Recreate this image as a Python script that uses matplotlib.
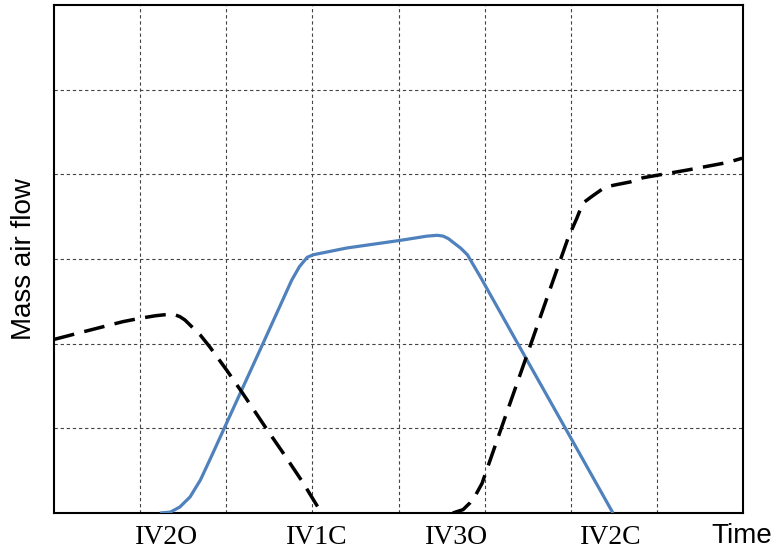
import matplotlib
matplotlib.use("Agg")
import matplotlib.pyplot as plt

# Data (x in grid-column units 0..8, y in grid-row units 0..6)
flow_a_x = [0.0, 0.34, 0.80, 1.0, 1.18, 1.27, 1.38, 1.46, 1.52, 1.58, 1.70, 1.81, 2.01, 2.20, 2.47, 2.66, 2.89, 3.07]
flow_a_y = [2.05, 2.14, 2.26, 2.30, 2.33, 2.34, 2.35, 2.32, 2.28, 2.22, 2.10, 1.96, 1.68, 1.40, 0.99, 0.71, 0.36, 0.06]

flow_b_x = [1.23, 1.35, 1.46, 1.58, 1.70, 1.81, 1.90, 2.16, 2.43, 2.76, 2.85, 2.94, 3.01, 3.40, 4.02, 4.33, 4.45, 4.52, 4.58, 4.63, 4.72, 4.80, 4.95, 5.49, 5.96, 6.49]
flow_b_y = [0.0, 0.01, 0.07, 0.19, 0.39, 0.63, 0.83, 1.41, 2.01, 2.75, 2.91, 3.02, 3.05, 3.13, 3.22, 3.27, 3.28, 3.27, 3.24, 3.20, 3.13, 3.05, 2.79, 1.81, 0.96, 0.0]

flow_c_x = [4.63, 4.75, 4.83, 4.90, 4.97, 5.21, 5.49, 5.80, 5.97, 6.07, 6.14, 6.26, 6.40, 6.54, 6.69, 6.84, 7.35, 7.82, 7.99]
flow_c_y = [0.0, 0.04, 0.12, 0.22, 0.35, 1.05, 1.86, 2.76, 3.25, 3.48, 3.66, 3.75, 3.85, 3.88, 3.91, 3.96, 4.05, 4.14, 4.19]

tick_pos = [1.31, 3.05, 4.67, 6.46]
tick_labels = ["IV2O", "IV1C", "IV3O", "IV2C"]

W, H = 778, 554
fig = plt.figure(figsize=(W / 100, H / 100), dpi=100)
ax = fig.add_axes([54 / W, (H - 513) / H, (743 - 54) / W, (513 - 5) / H])

ax.plot(flow_b_x, flow_b_y, color="#4F81BD", lw=2.3, solid_joinstyle="round",
        solid_capstyle="butt", zorder=3)
ax.plot(flow_a_x, flow_a_y, color="black", lw=2.5, dashes=(6, 3),
        dash_joinstyle="round", zorder=4)
ax.plot(flow_c_x, flow_c_y, color="black", lw=2.5, dashes=(6, 3),
        dash_joinstyle="round", zorder=4)

ax.set_xlim(0, 8)
ax.set_ylim(0, 6)
ax.set_xticks(range(1, 8), minor=True)
ax.set_yticks(range(1, 6), minor=True)
ax.set_yticks([])
ax.set_xticks(tick_pos, tick_labels)
ax.tick_params(axis="both", which="both", length=0)
ax.tick_params(axis="x", which="major", pad=9)
for lbl in ax.get_xticklabels():
    lbl.set_fontfamily("Liberation Serif")
    lbl.set_fontsize(20)
ax.grid(True, which="minor", color="#444444", lw=0.8, linestyle=(0, (3, 2.5)))
ax.grid(False, which="major")
for s in ax.spines.values():
    s.set_linewidth(1.5)
    s.set_color("black")

fig.text(742 / W, (H - 543) / H, "Time", ha="center", va="baseline",
         fontsize=20, family="Liberation Sans")
fig.text(24 / W, 1 - 259.5 / H, "Mass air flow", ha="center", va="center",
         rotation=90, fontsize=20, family="Liberation Sans")

fig.savefig("out.png", dpi=100)
